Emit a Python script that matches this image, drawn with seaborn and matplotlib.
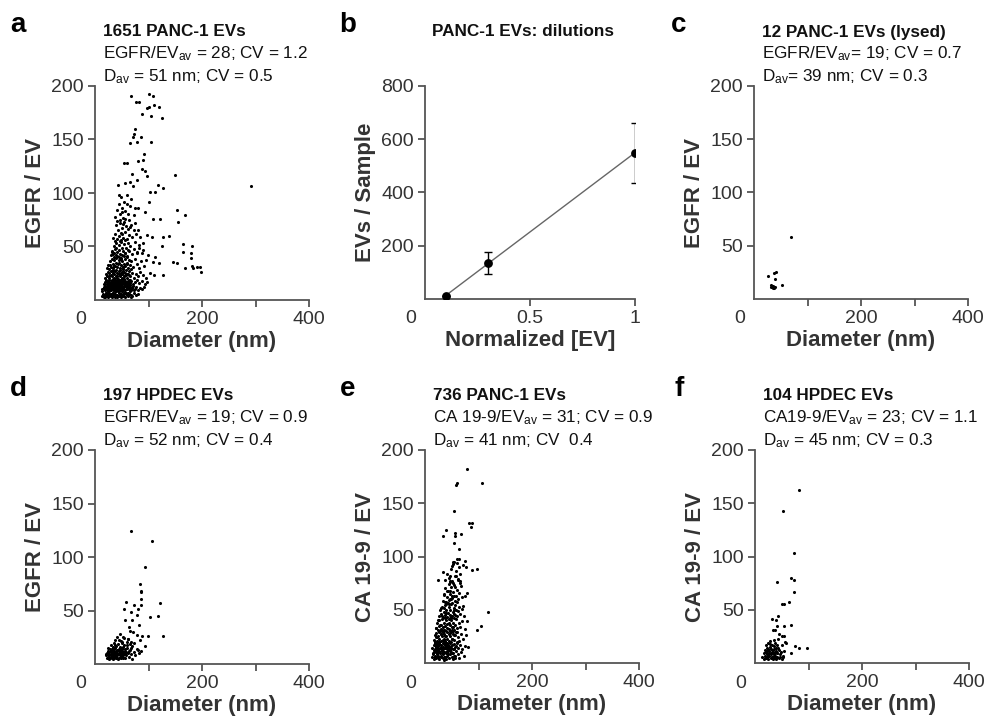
import seaborn as sns
import matplotlib.pyplot as plt

# ---- data ----
# panel a: 1651 PANC-1 EVs (diameter nm, EGFR per EV)
a_diam = [67, 83, 76, 101, 108, 96.5, 101, 111, 120, 104, 124.6, 87, 75, 73, 71.7, 86, 78, 65, 104.7,
          91.6, 81, 90.3, 55, 60.4, 68.5, 87, 93.5, 97, 149.5, 78, 65, 43.6, 56, 71.7, 118, 127.7, 103,
          112, 100, 291, 152.6, 169, 155.8, 121, 107.8, 93.5, 81, 49.8, 46.7, 96.6, 105.9, 126.5, 139,
          124.6, 165, 180.7, 165, 178.8, 179.5, 145, 152.6, 120, 168, 180.7, 190, 196, 197.5, 183.8,
          127.7, 111, 107.8, 95, 99.7, 112, 83, 90, 78, 89, 85, 81, 74, 65,
          13, 15, 17, 18, 20, 21, 23, 24, 26, 27, 29, 30, 32, 33, 35, 36, 38, 39, 41, 42, 44, 45, 47, 48,
          50, 51, 53, 55, 56, 58, 60, 62, 64, 66, 68, 70, 73, 76, 80, 14, 19, 25, 31, 37, 43, 49, 54, 61, 67,
          14, 16, 18, 19, 21, 22, 24, 25, 27, 28, 30, 31, 33, 34, 36, 37, 39, 40, 42, 43, 45, 46, 48, 49,
          51, 52, 54, 56, 57, 59, 61, 63, 65, 67, 69, 71, 74, 77, 80, 84, 88, 92, 17, 23, 29, 35, 41, 47,
          53, 58, 64, 72,
          16, 18, 20, 22, 23, 25, 26, 28, 29, 31, 32, 34, 35, 37, 38, 40, 41, 43, 44, 46, 47, 49, 50, 52,
          54, 55, 57, 59, 61, 63, 65, 68, 71, 74, 78, 82, 87, 93, 98, 27, 33, 39, 45, 51, 58, 66,
          19, 21, 23, 24, 26, 27, 29, 30, 32, 33, 35, 36, 38, 39, 41, 42, 44, 45, 47, 48, 50, 51, 53, 55,
          57, 59, 61, 63, 66, 69, 72, 76, 80, 85, 90, 96, 102, 34, 40, 46, 52, 58, 64,
          23, 25, 27, 28, 30, 31, 33, 34, 36, 37, 39, 40, 42, 43, 45, 46, 48, 49, 51, 52, 54, 56, 57, 59,
          61, 63, 65, 68, 71, 74, 78, 82, 86, 91, 35, 44, 53, 60, 67,
          29, 31, 33, 35, 36, 38, 39, 41, 42, 44, 45, 47, 48, 50, 51, 53, 54, 56, 58, 60, 62, 64, 66, 69,
          72, 75, 79, 83, 88, 37, 46, 55, 61, 40,
          34, 37, 39, 41, 43, 45, 46, 48, 50, 51, 53, 55, 56, 58, 60, 62, 64, 67, 70, 73, 77, 42, 52, 57,
          63, 48,
          38, 41, 44, 46, 48, 50, 52, 54, 57, 60, 62, 65, 68, 72, 75, 45, 56, 59]
a_egfr = [190.6, 185, 185, 192.5, 190.6, 179, 180.7, 182, 180, 172, 170, 174, 160, 155, 152.6, 152, 148,
          147, 148, 136, 130, 131, 128.5, 127.9, 118, 122, 121, 115.6, 116.8, 112, 110.6, 107.5, 109,
          106.5, 107.5, 104.4, 101, 101, 92, 106.5, 84, 79.4, 73, 76, 75.4, 82.5, 85.7, 82.5, 75, 60.7,
          59.2, 59.2, 60, 50.8, 52, 50.8, 45, 43.6, 39, 35.8, 34.3, 34.3, 29.6, 31.8, 31, 31, 26.5, 29.6,
          23.4, 23.4, 35.8, 37.4, 42, 40.5, 48.3, 46.7, 43.6, 53, 59.2, 65.4, 71.7, 68.5,
          4, 6, 3, 5, 7, 4, 6, 3, 5, 8, 4, 6, 3, 7, 5, 4, 6, 8, 3, 5, 7, 4, 6, 3,
          5, 8, 4, 6, 3, 7, 5, 4, 6, 8, 5, 4, 7, 5, 6, 8, 3, 7, 5, 3, 8, 6, 7, 7, 3,
          10, 12, 9, 13, 11, 9, 12, 14, 10, 13, 9, 11, 13, 10, 12, 14, 9, 11, 13, 10, 12, 14, 9, 11,
          13, 10, 12, 14, 9, 11, 13, 10, 12, 9, 11, 13, 10, 12, 9, 11, 10, 12, 11, 10, 12, 9, 12, 10,
          9, 13, 11, 9,
          15, 17, 19, 15, 18, 16, 19, 15, 17, 19, 16, 18, 15, 17, 19, 16, 18, 15, 17, 19, 16, 18, 15, 17,
          19, 16, 18, 15, 17, 19, 16, 18, 15, 17, 19, 16, 18, 15, 17, 17, 20, 14, 16, 20, 16, 14,
          21, 24, 22, 26, 21, 25, 23, 27, 22, 25, 21, 24, 27, 22, 25, 21, 24, 27, 22, 25, 21, 24, 27, 22,
          25, 21, 24, 27, 22, 25, 21, 24, 22, 26, 23, 21, 25, 28, 28, 23, 26, 28, 23,
          30, 33, 29, 36, 31, 38, 34, 30, 37, 32, 35, 39, 31, 34, 37, 30, 33, 39, 36, 31, 34, 38, 32, 35,
          30, 37, 33, 36, 31, 38, 34, 30, 36, 32, 40, 40, 29, 40, 29,
          42, 46, 43, 50, 44, 48, 53, 41, 45, 51, 47, 43, 54, 49, 42, 46, 52, 44, 49, 41, 53, 46, 50, 43,
          48, 54, 45, 51, 44, 55, 55, 41, 47, 49,
          58, 62, 70, 57, 65, 60, 72, 56, 67, 62, 58, 73, 64, 69, 57, 66, 61, 70, 59, 65, 62, 74, 71, 56,
          75, 63,
          78, 84, 90, 80, 96, 86, 77, 92, 83, 98, 80, 88, 94, 79, 86, 98, 76, 90]
# extra points in the solid black core of panel a
a_core_diam = [22, 24, 26, 28, 30, 32, 34, 36, 38, 40, 42, 44, 46, 48, 50, 52, 54, 57, 59, 62,
               20, 23, 27, 31, 35, 39, 43, 47, 51, 55, 58, 63, 66, 70,
               25, 29, 33, 37, 41, 45, 49, 53, 56, 60,
               22, 26, 30, 34, 38, 42, 46, 50, 54, 58, 62,
               28, 36, 44, 52, 60,
               32, 40, 48, 56]
a_core_egfr = [5, 8, 4, 10, 6, 12, 7, 9, 14, 5, 11, 8, 16, 6, 13, 9, 18, 7, 10, 15,
               7, 13, 6, 17, 9, 4, 20, 12, 8, 22, 14, 6, 19, 11,
               11, 5, 15, 8, 22, 10, 18, 4, 13, 24,
               17, 22, 14, 25, 19, 16, 28, 26, 20, 23, 18,
               33, 32, 35, 31, 34,
               45, 42, 38, 44]

# panel b: dilution series
b_conc = [0.1, 0.3, 1.0]
b_evs = [12, 135, 549]
b_err = [0, 41, 112]

# panel c: 12 lysed PANC-1 EVs
c_diam = [70, 26, 37, 42, 39, 31, 36, 40, 35, 53, 32, 38]
c_egfr = [58, 22, 24, 25, 19, 11, 10, 11, 12, 13, 13, 10]

# panel d: 197 HPDEC EVs
d_diam = [66.7, 106, 93.5, 85, 86, 86, 86, 58, 86, 121.5, 55, 81, 73.5, 67, 78, 103, 117, 56, 68.5, 83,
          64, 65, 71.7, 78, 88.5, 98.5, 127, 46.7, 62, 84, 93.5, 81, 70, 53, 49,
          20, 22, 23, 24, 25, 26, 27, 28, 29, 30, 31, 32, 33, 34, 35, 36, 37, 38, 39, 40, 41, 42, 43, 44,
          45, 46, 47, 48, 49, 50, 51, 52, 53, 54, 55, 56, 57, 58, 60, 62, 64, 66, 68, 70, 72, 75, 78, 82,
          86, 21, 24, 26, 28, 30, 32, 34, 36, 38, 40, 42, 44, 46, 48, 50, 52, 54, 56, 58, 25, 30, 35, 40,
          45, 50, 55, 60, 65, 42, 37, 48, 33, 62, 68, 73, 29, 31, 39, 43, 47, 53, 57, 63, 27, 35, 41, 49,
          44, 38, 51, 59, 67, 36, 33]
d_egfr = [124.7, 115, 90.7, 75, 68.5, 67, 61, 58, 55, 57, 51.5, 51.5, 55.5, 48.5, 46, 44, 45, 40.7, 40.7,
          36, 35, 31, 30, 27, 26.5, 26.5, 26.5, 27.8, 23, 22, 16.7, 13, 5, 25, 21.6,
          8, 6, 10, 7, 12, 5, 9, 14, 7, 11, 6, 9, 13, 5, 8, 11, 7, 15, 6, 10, 8, 13, 5, 9,
          12, 7, 16, 10, 6, 8, 14, 11, 7, 9, 18, 6, 12, 8, 15, 10, 7, 13, 9, 17, 11, 8, 14, 10,
          12, 9, 11, 8, 6, 9, 7, 12, 6, 9, 7, 10, 6, 11, 8, 12, 6, 10, 9, 11, 15, 18, 20, 17,
          22, 20, 24, 21, 19, 25, 22, 15, 16, 23, 15, 20, 12, 14, 12, 19, 13, 16, 14, 12, 7, 10, 6, 9,
          14, 18, 21, 18, 21, 14, 8]

# panel e: 736 PANC-1 EVs (CA 19-9 per EV)
e_diam = [78, 60, 58, 106, 54, 82, 87, 86, 38.6, 33, 66.7, 56, 56, 55, 63, 53, 59, 64, 75, 71.6, 76,
          88.5, 96.6, 33, 25, 46.7, 58, 62, 65.4, 46.7, 117, 78, 75, 71.6, 79, 104.7, 97.8, 81,
          13, 15, 16, 18, 19, 21, 22, 24, 25, 27, 28, 30, 31, 33, 34, 36, 37, 39, 40, 42, 43, 45, 47, 49,
          51, 53, 55, 58, 61, 64, 68, 72, 17, 23, 29, 35, 41, 46, 52, 57,
          14, 16, 18, 19, 21, 22, 24, 25, 27, 28, 30, 31, 33, 34, 36, 37, 39, 40, 42, 43, 45, 46, 48, 50,
          52, 54, 56, 59, 62, 65, 69, 74, 20, 26, 32, 38, 44, 49, 58,
          16, 18, 20, 21, 23, 24, 26, 27, 29, 30, 32, 33, 35, 36, 38, 39, 41, 42, 44, 45, 47, 48, 50, 52,
          54, 56, 58, 61, 64, 67, 71, 76, 28, 34, 40, 46, 53, 60,
          20, 22, 24, 26, 27, 29, 30, 32, 33, 35, 36, 38, 39, 41, 42, 44, 45, 47, 48, 50, 52, 54, 56, 58,
          60, 63, 66, 70, 74, 37, 46, 55, 31, 51,
          26, 28, 30, 32, 34, 35, 37, 38, 40, 41, 43, 44, 46, 47, 49, 50, 52, 54, 55, 57, 59, 61, 63, 66,
          69, 72, 39, 45, 58, 36,
          33, 35, 37, 39, 41, 42, 44, 45, 47, 48, 50, 51, 53, 55, 56, 58, 60, 62, 64, 67, 70, 43, 49, 54,
          59, 46, 52, 57,
          38, 42, 45, 48, 51, 53, 56, 58, 61, 63, 66, 50, 55, 60, 47, 65]
e_ca199 = [182, 169, 167, 169, 143, 131, 131, 128, 125, 119, 121, 122.5, 119, 112.5, 107.5, 95, 97.5,
           97.8, 96, 92, 90.6, 87.5, 88.4, 85, 78, 81.9, 81.9, 78, 75, 76.6, 47.8, 65.6, 62.5, 53.8,
           39, 35, 31, 15,
           6, 9, 4, 7, 11, 5, 8, 10, 6, 4, 9, 7, 11, 5, 8, 10, 6, 9, 4, 7, 11, 5, 8, 10,
           6, 9, 7, 11, 8, 5, 10, 7, 10, 12, 6, 3, 10, 12, 4, 5,
           14, 17, 13, 19, 15, 18, 13, 16, 19, 14, 17, 13, 19, 15, 18, 14, 16, 19, 13, 17, 15, 19, 14, 17,
           13, 18, 15, 19, 14, 17, 13, 16, 16, 20, 12, 20, 12, 20, 16,
           22, 26, 24, 28, 21, 25, 29, 23, 27, 21, 25, 29, 23, 27, 21, 25, 29, 23, 27, 21, 25, 29, 23, 27,
           22, 26, 29, 24, 21, 27, 23, 26, 30, 30, 30, 30, 30, 20,
           33, 38, 31, 35, 40, 32, 36, 41, 34, 38, 31, 35, 40, 33, 37, 41, 32, 36, 40, 34, 38, 31, 36, 41,
           33, 38, 34, 39, 32, 42, 42, 42, 30, 31,
           44, 50, 46, 53, 43, 48, 54, 45, 50, 43, 47, 53, 45, 50, 55, 44, 48, 52, 46, 54, 44, 49, 53, 46,
           51, 44, 55, 55, 50, 52,
           58, 64, 70, 57, 62, 68, 74, 59, 65, 71, 56, 61, 67, 73, 58, 63, 69, 60, 66, 72, 62, 56, 60, 63,
           57, 68, 75, 71,
           78, 84, 80, 88, 77, 93, 82, 86, 79, 90, 84, 91, 95, 94, 76, 77]
# extra points in the dense core of panel e
e_core_diam = [15, 17, 19, 21, 23, 25, 27, 29, 31, 33, 35, 37, 39, 41, 43, 45, 48, 51, 54, 57,
               18, 22, 26, 30, 34, 38, 42, 46, 50, 55, 20, 28, 36, 44, 52, 60,
               24, 32, 40, 48, 56, 30, 38, 46, 54, 35, 43, 51]
e_core_ca199 = [8, 12, 6, 10, 14, 7, 11, 15, 9, 13, 6, 17, 10, 14, 8, 12, 16, 9, 13, 7,
                20, 24, 18, 27, 22, 25, 19, 28, 23, 26, 33, 36, 31, 38, 34, 29,
                40, 44, 47, 42, 45, 52, 57, 60, 50, 65, 68, 63]

# panel f: 104 HPDEC EVs (CA 19-9 per EV)
f_diam = [83, 53, 73, 40.5, 66.7, 73.5, 73, 50, 55, 63.6, 43.6, 31, 38.6, 40.5, 55, 66.7, 34, 37, 45,
          51, 55, 36, 43.6, 56, 28, 41.7, 50, 58, 74.8, 82, 97.8, 67, 53,
          14, 16, 17, 18, 19, 20, 21, 22, 23, 24, 25, 26, 27, 28, 29, 30, 31, 32, 33, 34, 35, 36, 37, 38,
          39, 40, 41, 42, 44, 45, 46, 48, 50, 52, 54, 20, 24, 28, 32, 30, 26, 35, 38, 43, 47, 23, 29, 33,
          37, 40, 25, 31, 36, 42, 18, 22]
f_ca199 = [162, 143, 103, 76, 79.7, 78, 67, 55.6, 55.6, 56.9, 44.4, 41, 40.6, 35, 35, 36, 30.6, 30.6,
           27.5, 25, 25, 21.9, 22.5, 20, 18, 17, 16.6, 18.8, 16, 14, 14, 9.4, 6,
           6, 9, 4, 12, 7, 5, 10, 14, 6, 8, 4, 11, 7, 15, 5, 9, 12, 6, 4, 10, 8, 13, 5, 7,
           11, 4, 9, 6, 12, 5, 8, 10, 4, 7, 11, 17, 19, 21, 17, 13, 9, 16, 19, 14, 6, 11, 8, 9,
           10, 14, 13, 6, 7, 9, 5, 8]

# ---- style ----
sns.set_theme(style="ticks")
plt.rcParams['font.family'] = ['Liberation Sans', 'DejaVu Sans']
plt.rcParams['mathtext.fontset'] = 'custom'
plt.rcParams['mathtext.rm'] = 'Liberation Sans'
plt.rcParams['mathtext.it'] = 'Liberation Sans:italic'
plt.rcParams['mathtext.bf'] = 'Liberation Sans:bold'

W, H = 988, 716
GREY = '#333333'
SPINE = '#555555'
fig = plt.figure(figsize=(W / 100, H / 100), dpi=100)


def make_axes(x0, y_top, w, h):
    return fig.add_axes([x0 / W, 1 - (y_top + h) / H, w / W, h / H])


def style_axes(ax):
    sns.despine(ax=ax)
    for s in ['left', 'bottom']:
        ax.spines[s].set_color(SPINE)
        ax.spines[s].set_linewidth(1.3)
    ax.tick_params(direction='out', length=5, width=1.3, color=SPINE,
                   labelsize=14, labelcolor=GREY, pad=3)
    ax.annotate('0', xy=(0, 0), xycoords='axes fraction', xytext=(-14, -20),
                textcoords='offset pixels', ha='center', va='center',
                fontsize=14, color=GREY)


def scatter_panel(ax, diam, val, ylabel):
    sns.scatterplot(x=diam, y=val, ax=ax, color='black', s=5, marker='o',
                    linewidth=0, legend=False)
    ax.set_xlim(0, 400)
    ax.set_ylim(0, 200)
    ax.set_xticks([100, 200, 300, 400])
    ax.set_xticklabels(['', '200', '', '400'])
    ax.set_yticks([50, 100, 150, 200])
    ax.set_xlabel('Diameter (nm)', fontsize=16, fontweight='bold', color=GREY, labelpad=2)
    ax.set_ylabel(ylabel, fontsize=16, fontweight='bold', color=GREY, labelpad=4)
    style_axes(ax)


def head(x, y, title, l2=None, l3=None):
    fig.text(x / W, 1 - y / H, title, fontsize=12.3, fontweight='bold', color='#111111', va='center')
    if l2:
        fig.text(x / W, 1 - (y + 22) / H, l2, fontsize=12.3, color='#111111', va='center')
    if l3:
        fig.text(x / W, 1 - (y + 45) / H, l3, fontsize=12.3, color='#111111', va='center')


# top row
ax_a = make_axes(95, 86, 214, 214)
scatter_panel(ax_a, a_diam + a_core_diam, a_egfr + a_core_egfr, 'EGFR / EV')

ax_b = make_axes(425, 86, 210, 213)
sns.regplot(x=b_conc, y=b_evs, ax=ax_b, ci=None, scatter=False, truncate=True,
            line_kws={'color': '#666666', 'lw': 1.0})
ax_b.errorbar(b_conc, b_evs, yerr=b_err, fmt='none', ecolor='black', elinewidth=1,
              capsize=3, capthick=1)
sns.scatterplot(x=b_conc, y=b_evs, ax=ax_b, color='black', s=40, linewidth=0, zorder=5)
ax_b.set_xlim(0, 1)
ax_b.set_ylim(0, 800)
ax_b.set_xticks([0.5, 1])
ax_b.set_xticklabels(['0.5', '1'])
ax_b.set_yticks([200, 400, 600, 800])
ax_b.set_xlabel('Normalized [EV]', fontsize=16, fontweight='bold', color=GREY, labelpad=2)
ax_b.set_ylabel('EVs / Sample', fontsize=16, fontweight='bold', color=GREY, labelpad=4)
style_axes(ax_b)

ax_c = make_axes(754, 86, 214, 213)
scatter_panel(ax_c, c_diam, c_egfr, 'EGFR / EV')

# bottom row
ax_d = make_axes(95, 450, 214, 214)
scatter_panel(ax_d, d_diam, d_egfr, 'EGFR / EV')
ax_e = make_axes(425, 450, 214, 213)
scatter_panel(ax_e, e_diam + e_core_diam, e_ca199 + e_core_ca199, 'CA 19-9 / EV')
ax_f = make_axes(755, 450, 214, 213)
scatter_panel(ax_f, f_diam, f_ca199, 'CA 19-9 / EV')

# headers
head(103, 32, '1651 PANC-1 EVs', r'EGFR/EV$_{\rm av}$ = 28; CV = 1.2', r'D$_{\rm av}$ = 51 nm; CV = 0.5')
fig.text(523 / W, 1 - 32 / H, 'PANC-1 EVs: dilutions', fontsize=12.3, fontweight='bold',
         color='#111111', va='center', ha='center')
head(762, 32, '12 PANC-1 EVs (lysed)', r'EGFR/EV$_{\rm av}$= 19; CV = 0.7', r'D$_{\rm av}$= 39 nm; CV = 0.3')
head(103, 396, '197 HPDEC EVs', r'EGFR/EV$_{\rm av}$ = 19; CV = 0.9', r'D$_{\rm av}$ = 52 nm; CV = 0.4')
head(433, 396, '736 PANC-1 EVs', r'CA 19-9/EV$_{\rm av}$ = 31; CV = 0.9', r'D$_{\rm av}$ = 41 nm; CV  0.4')
head(763, 396, '104 HPDEC EVs', r'CA19-9/EV$_{\rm av}$ = 23; CV = 1.1', r'D$_{\rm av}$ = 45 nm; CV = 0.3')

for lab, x, y in [('a', 18, 25), ('b', 348, 25), ('c', 679, 25),
                  ('d', 18, 389), ('e', 348, 389), ('f', 679, 389)]:
    fig.text(x / W, 1 - y / H, lab, fontsize=20, fontweight='bold', color='black',
             ha='center', va='center')

fig.savefig('out.png', dpi=100)
